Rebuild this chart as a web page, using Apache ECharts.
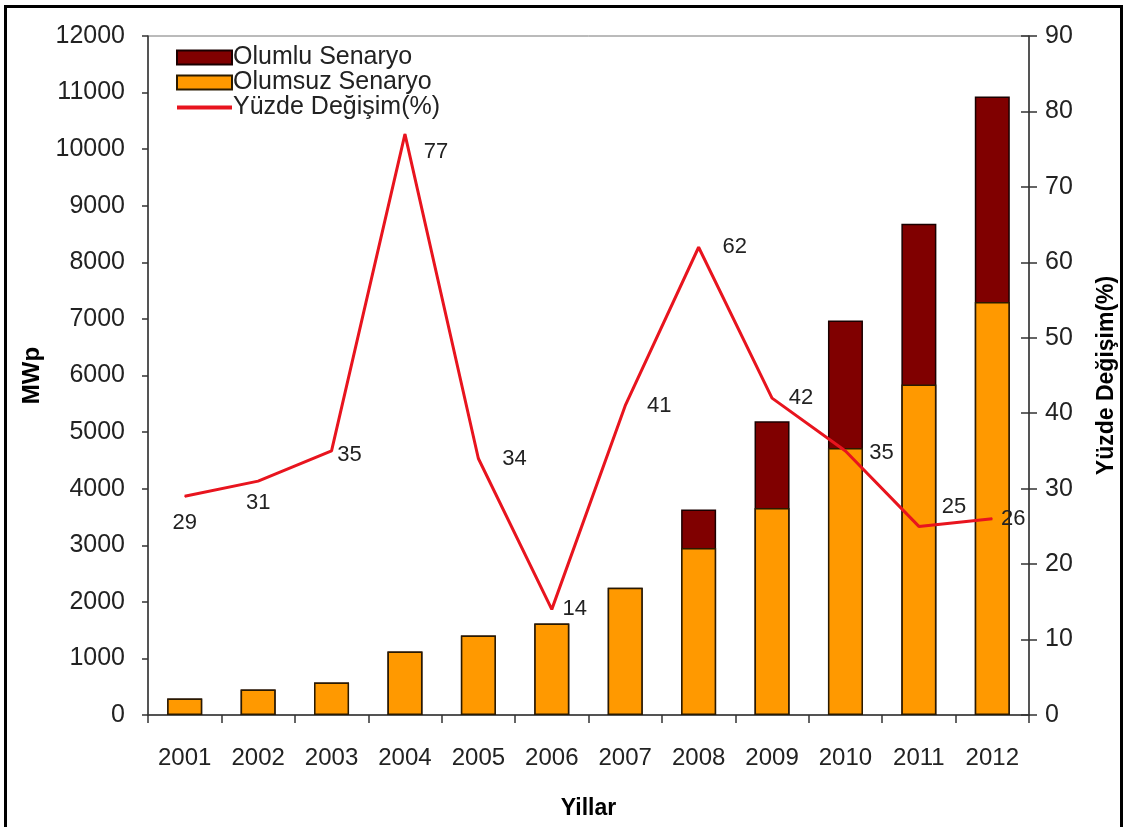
<!DOCTYPE html>
<html>
<head>
<meta charset="utf-8">
<script src="https://cdn.jsdelivr.net/npm/echarts@6/dist/echarts.min.js"></script>
<style>
html,body{margin:0;padding:0;background:#fff;overflow:hidden;}
#chart{position:absolute;left:0;top:0;width:1126px;height:827px;}
#frame{position:absolute;left:4px;top:5px;width:1113px;height:900px;border:3px solid #000;pointer-events:none;}
</style>
</head>
<body>
<div id="chart"></div>
<div id="frame"></div>
<script>
// ---- data ----
const years = ['2001','2002','2003','2004','2005','2006','2007','2008','2009','2010','2011','2012'];
const olumlu = [292, 451, 575, 1123, 1405, 1617, 2250, 3630, 5190, 6970, 8680, 10930];
const olumsuz = [292, 451, 575, 1123, 1405, 1617, 2250, 2950, 3660, 4720, 5840, 7300];
const yuzde = [29, 31, 35, 77, 34, 14, 41, 62, 42, 35, 25, 26];
const seriesNames = ['Olumlu Senaryo', 'Olumsuz Senaryo', 'Yüzde Değişim(%)'];

// ---- label placement (style only) ----
const labelOffsets = [[0,27],[0,22],[18,4],[31,18],[36,0],[23,0],[34,0],[36,0],[29,0],[36,2],[35,-19],[21,0]];

const FONT = '"Liberation Sans", Arial, sans-serif';
const RED = '#E8141E';
const chart = echarts.init(document.getElementById('chart'), null, {renderer:'canvas'});

const lineData = yuzde.map((v,i)=>({
  value: v,
  label: {offset: labelOffsets[i]}
}));

const option = {
  animation: false,
  backgroundColor: '#fff',
  textStyle: {fontFamily: FONT},
  grid: {left:148, right:96, top:36, bottom:112, show:true, borderColor:'#777', borderWidth:1, backgroundColor:'transparent'},
  legend: {
    left: 170, top: 40, orient: 'vertical', itemGap: 0,
    itemWidth: 55, itemHeight: 14,
    data: [
      {name: seriesNames[0], icon:'rect'},
      {name: seriesNames[1], icon:'rect'},
      {name: seriesNames[2], itemStyle:{opacity:0}, lineStyle:{width:4, color:RED}}
    ],
    textStyle: {fontFamily: FONT, fontSize: 25, lineHeight: 23, color:'#222', padding:[0,0,0,-4]}
  },
  xAxis: {
    type:'category', data: years,
    name:'Yillar', nameLocation:'middle', nameGap: 82,
    nameTextStyle:{fontFamily:FONT, fontSize:23, fontWeight:'bold', color:'#000'},
    axisLine:{lineStyle:{color:'#333', width:1.5}},
    axisTick:{show:true, length:8, lineStyle:{color:'#333', width:1.5}},
    axisLabel:{fontFamily:FONT, fontSize:24, color:'#222', margin:31}
  },
  yAxis: [
    {
      type:'value', min:0, max:12000, interval:1000, position:'left',
      name:'MWp', nameLocation:'middle', nameGap:104,
      nameTextStyle:{fontFamily:FONT, fontSize:24, fontWeight:'bold', color:'#000'},
      axisLine:{show:true, lineStyle:{color:'#333', width:1.5}},
      axisTick:{show:true, length:6, lineStyle:{color:'#333', width:1.5}},
      axisLabel:{fontFamily:FONT, fontSize:25, color:'#222', margin:23, formatter: v => String(v)},
      splitLine:{show:false}
    },
    {
      type:'value', min:0, max:90, interval:10, position:'right',
      name:'Yüzde Değişim(%)', nameLocation:'middle', nameGap:66,
      nameTextStyle:{fontFamily:FONT, fontSize:23, fontWeight:'bold', color:'#000'},
      axisLine:{show:true, lineStyle:{color:'#333', width:1.5}},
      axisTick:{show:true, length:8, lineStyle:{color:'#333', width:1.5}},
      axisLabel:{fontFamily:FONT, fontSize:25, color:'#222', margin:16},
      splitLine:{show:false}
    },
    {
      type:'value', min:0, max:90, interval:10, position:'right',
      axisLine:{show:false},
      axisTick:{show:true, inside:true, length:8, lineStyle:{color:'#333', width:1.5}},
      axisLabel:{show:false},
      splitLine:{show:false}
    }
  ],
  series: [
    {
      name: seriesNames[0], type:'bar', yAxisIndex:0, data: olumlu,
      barWidth: 35, barGap:'-100%',
      itemStyle:{color:'#800000', borderColor:'#1a0000', borderWidth:1.5}
    },
    {
      name: seriesNames[1], type:'bar', yAxisIndex:0, data: olumsuz,
      barWidth: 35, barGap:'-100%',
      itemStyle:{color:'#FF9900', borderColor:'#2a1a00', borderWidth:1.5}
    },
    {
      name: seriesNames[2], type:'line', yAxisIndex:1, data: lineData,
      symbol:'circle', symbolSize:1, showSymbol:true, z:5,
      lineStyle:{color:RED, width:3},
      itemStyle:{color:RED},
      label:{show:true, position:'inside', fontFamily:FONT, fontSize:22, color:'#222', align:'center', verticalAlign:'middle'}
    }
  ]
};
chart.setOption(option);
</script>
</body>
</html>
